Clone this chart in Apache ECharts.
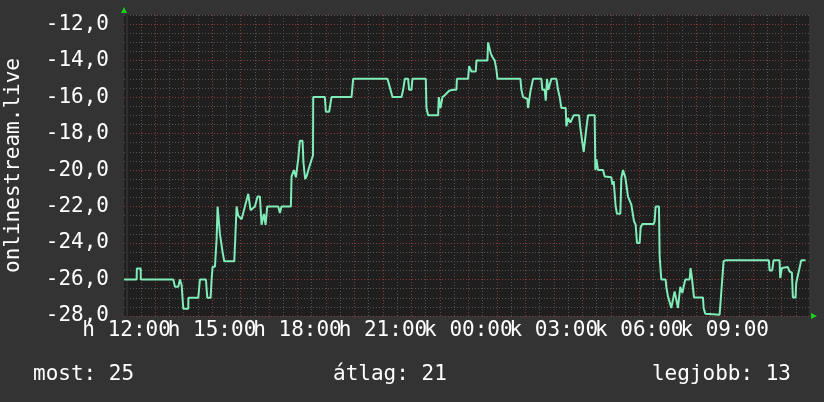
<!DOCTYPE html>
<html><head><meta charset="utf-8">
<script src="https://cdn.jsdelivr.net/npm/echarts@6/dist/echarts.min.js"></script>
<style>html,body{margin:0;padding:0;background:#333333;}#c{width:824px;height:402px;}</style>
</head><body><div id="c"></div>
<script>
// ---- data (hours after Monday 12:00, temperature-like value) ----
const seriesName = 'onlinestream.live';
const hours = [
-0.091,0.353,0.36,0.494,0.50,1.64,1.698,1.815,1.874,1.932,1.991,2.166,2.17,2.517,2.575,2.786,2.833,2.95,2.985,3.02,3.102,3.16,3.195,3.254,3.277,3.371,3.429,3.78,3.815,3.862,3.92,4.037,4.096,4.154,4.271,4.353,4.505,4.599,4.681,4.739,4.821,4.88,4.938,5.324,5.382,5.441,5.768,5.792,5.874,5.944,6.026,6.084,6.178,6.21,6.27,6.33,6.40,6.48,6.545,6.552,
6.961,6.996,7.113,7.195,7.897,7.956,9.16,9.219,9.277,9.336,9.652,9.71,9.768,9.885,9.92,10.002,10.037,10.505,10.529,10.587,10.938,10.961,11.02,11.09,11.172,11.23,11.324,11.464,11.58,11.6,11.99,12.026,
12.073,12.108,12.26,12.283,12.669,12.692,12.751,12.786,12.845,12.926,12.985,13.02,13.827,13.862,13.92,14.072,14.096,14.154,14.178,14.248,14.271,14.564,14.599,14.681,14.716,14.763,14.809,14.856,14.915,15.09,15.148,15.207,15.266,15.418,15.441,15.499,15.581,15.652,15.698,15.885,15.932,16.002,16.049,16.084,16.143,16.201,16.435,16.459,16.494,16.552,16.727,16.786,17.02,17.055,17.102,17.137,17.172,17.219,17.336,17.371,17.429,17.488,17.511,17.57,17.605,17.663,
17.722,17.78,17.815,17.874,17.921,18.014,18.049,18.108,18.505,18.54,18.575,18.692,18.716,18.774,18.926,18.95,19.008,19.067,19.125,19.184,19.242,19.301,19.359,19.418,19.441,19.488,19.511,19.57,19.616,19.768,19.803,19.85,19.921,20.236,20.26,20.318,20.377,20.821,20.845,20.915,20.961,21.032,22.552,22.575,22.669,22.716,22.926,22.95,23.008,23.067,23.218,23.277,23.359,23.394,23.488,23.511,23.57,23.628,23.687,23.839
];
const values = [
-26.0,-26.0,-25.4,-25.4,-26.0,-26.0,-26.4,-26.4,-26.0,-26.3,-27.6,-27.6,-27.0,-27.0,-26.0,-26.0,-27.0,-27.0,-26.0,-25.3,-25.3,-23.8,-22.0,-22.0,-23.5,-24.5,-25.0,-25.0,-23.8,-22.0,-22.5,-22.7,-22.35,-22.0,-21.3,-22.2,-22.0,-21.45,-21.45,-23.0,-22.4,-23.0,-22.0,-22.0,-22.35,-22.0,-22.0,-20.35,-20.0,-20.4,-19.4,-18.4,-18.4,-19.6,-20.5,-20.3,-19.9,-19.5,-19.2,-16.0,
-16.0,-16.8,-16.8,-16.0,-16.0,-15.0,-15.0,-15.33,-15.4,-16.0,-16.0,-15.6,-15.0,-15.0,-15.6,-15.6,-15.0,-15.0,-16.6,-17.0,-17.0,-16.0,-16.6,-16.0,-15.9,-15.8,-15.65,-15.6,-15.6,-15.0,-15.0,-14.3,
-14.3,-14.6,-14.6,-14.0,-14.0,-13.0,-13.0,-13.6,-13.8,-14.0,-14.5,-15.0,-15.0,-15.6,-16.0,-16.1,-16.6,-16.6,-15.7,-15.6,-15.0,-15.0,-15.6,-15.6,-16.2,-15.0,-15.6,-15.6,-15.0,-15.0,-15.6,-16.0,-16.6,-16.6,-17.6,-17.15,-17.4,-17.15,-17.0,-17.0,-17.7,-17.8,-19.0,-19.0,-17.7,-17.0,-17.0,-20.0,-19.4,-20.0,-20.0,-20.35,-20.4,-20.8,-20.6,-20.6,-22.0,-22.4,-22.4,-20.45,-20.0,-20.0,-20.4,-20.4,-21.45,-21.45,
-21.9,-21.9,-22.8,-23.0,-24.0,-24.0,-23.15,-22.96,-22.96,-22.8,-22.0,-22.0,-24.73,-26.0,-26.0,-26.4,-26.92,-27.0,-27.56,-27.47,-26.65,-26.56,-27.56,-27.56,-26.4,-26.34,-26.74,-26.74,-26.0,-26.0,-25.37,-25.92,-26.98,-26.98,-27.56,-27.87,-27.93,-27.93,-27.44,-27.44,-25.0,-24.95,-24.95,-25.5,-25.5,-24.95,-24.95,-25.92,-25.37,-25.37,-25.32,-25.56,-25.62,-26.98,-26.98,-26.19,-26.19,-25.37,-24.95,-24.95
];
// ---- axes / ticks ----
const xMin = -0.091, xMax = 23.96;
const hourTicks = [0,1,2,3,4,5,6,7,8,9,10,11,12,13,14,15,16,17,18,19,20,21,22,23];
const halfHourTicks = [-0.5,0.5,1.5,2.5,3.5,4.5,5.5,6.5,7.5,8.5,9.5,10.5,11.5,12.5,13.5,14.5,15.5,16.5,17.5,18.5,19.5,20.5,21.5,22.5,23.5];
const xLabelHours = [0,3,6,9,12,15,18,21];
const xLabelTexts = ['h 12:00','h 15:00','h 18:00','h 21:00','k 00:00','k 03:00','k 06:00','k 09:00'];
const yMin = -28, yMax = -11.5;
const yMajorTicks = [-28,-26,-24,-22,-20,-18,-16,-14,-12];
const yMinorStep = 0.5;
const legendLabels = ['most','átlag','legjobb'];
const legendValues = [25, 21, 13];

const FONT = 'DejaVu Sans Mono';
const G = {left:124, right:15, top:15, bottom:86};
const W = 824, H = 402;
const lineData = hours.map((h,i)=>[h, values[i]]);
// split labels into two alternating groups so no axis has overlapping labels
const labelGroupA = xLabelHours.filter((h,i)=>i%2===0);
const labelGroupB = xLabelHours.filter((h,i)=>i%2===1);
const labelFor = (v)=>{const r=Math.round(v); const i=xLabelHours.indexOf(r); return (i>=0 && Math.abs(v-r)<1e-6)? xLabelTexts[i]:'';};

const chart = echarts.init(document.getElementById('c'), null, {renderer:'canvas'});
const grey = '#545454', red = '#853a3a';
const labelStyle = {show:true, color:'#ffffff', fontFamily:FONT, fontSize:21, margin:4,
  hideOverlap:false, showMinLabel:true, showMaxLabel:true, formatter:labelFor};
chart.setOption({
  animation:false,
  backgroundColor:'#333333',
  grid:{left:G.left, right:G.right, top:G.top, bottom:G.bottom, show:true, backgroundColor:'#1f1f1f', borderWidth:0,
        containLabel:false, outerBoundsMode:'none'},
  xAxis:[
    {type:'value', min:xMin, max:xMax, position:'bottom',
     axisLine:{show:false}, axisTick:{show:false, customValues:halfHourTicks},
     axisLabel:{show:false},
     splitLine:{show:true, lineStyle:{color:grey, width:1, type:[1,2]}}},
    {type:'value', min:xMin, max:xMax, position:'bottom',
     axisLine:{show:false}, axisTick:{show:false, customValues:hourTicks},
     axisLabel:Object.assign({}, labelStyle, {customValues:labelGroupA}),
     splitLine:{show:true, lineStyle:{color:red, width:1, type:[1,2]}}},
    {type:'value', min:xMin, max:xMax, position:'bottom',
     axisLine:{show:false}, axisTick:{show:false, customValues:labelGroupB},
     axisLabel:Object.assign({}, labelStyle, {customValues:labelGroupB}),
     splitLine:{show:false}}
  ],
  yAxis:[
    {type:'value', min:yMin, max:yMax, interval:yMinorStep,
     axisLine:{show:false}, axisTick:{show:false}, axisLabel:{show:false},
     splitLine:{show:true, lineStyle:{color:grey, width:1, type:[1,2]}}},
    {type:'value', min:yMin, max:yMax, position:'left',
     axisLine:{show:true, lineStyle:{color:'#2e2e2e', width:2}}, axisTick:{show:false, customValues:yMajorTicks},
     axisLabel:{show:true, customValues:yMajorTicks, color:'#ffffff', fontFamily:FONT, fontSize:21, margin:15,
       hideOverlap:false, showMinLabel:true, showMaxLabel:true,
       formatter:(v)=>v.toFixed(1).replace('.',',')},
     splitLine:{show:true, lineStyle:{color:red, width:1, type:[1,2]}},
     name:seriesName, nameLocation:'middle', nameRotate:90, nameGap:100,
     nameTextStyle:{color:'#ffffff', fontFamily:FONT, fontSize:21}}
  ],
  series:[{
    name:seriesName, type:'line', xAxisIndex:1, yAxisIndex:1, data:lineData,
    showSymbol:false, symbol:'none', clip:true,
    lineStyle:{color:'#80ecb8', width:2}
  }],
  graphic:[
    {type:'polygon', shape:{points:[[G.left-3,G.top-2],[G.left+3,G.top-2],[G.left,G.top-8]]}, style:{fill:'#19d119'}, z:100},
    {type:'polygon', shape:{points:[[W-G.right+2,H-G.bottom-3],[W-G.right+2,H-G.bottom+3],[W-G.right+8,H-G.bottom]]}, style:{fill:'#19d119'}, z:100},
    {type:'text', x:33, y:375, style:{text:legendLabels[0]+': '+legendValues[0], fill:'#ffffff', font:'21px '+FONT, verticalAlign:'middle'}},
    {type:'text', x:333, y:375, style:{text:legendLabels[1]+': '+legendValues[1], fill:'#ffffff', font:'21px '+FONT, verticalAlign:'middle'}},
    {type:'text', x:791, y:375, style:{text:legendLabels[2]+': '+legendValues[2], fill:'#ffffff', font:'21px '+FONT, align:'right', verticalAlign:'middle'}}
  ]
});
</script></body></html>
